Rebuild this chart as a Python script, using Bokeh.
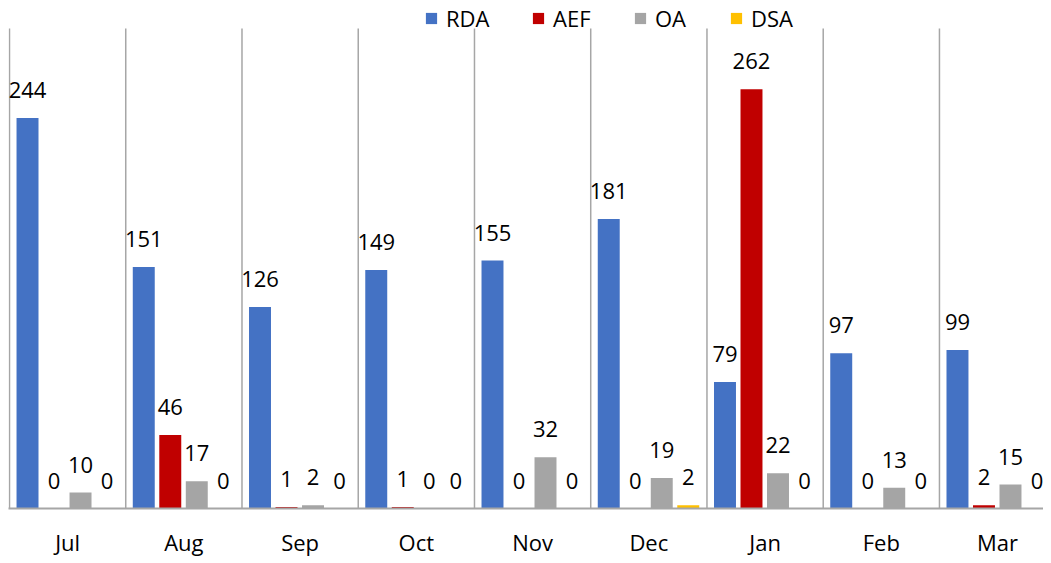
from bokeh.plotting import figure
from bokeh.models import Range1d, FixedTicker, Legend, LegendItem, ColumnDataSource
from bokeh.core.properties import value
from bokeh.embed import file_html
from bokeh.resources import INLINE
import numpy as np

months = ["Jul", "Aug", "Sep", "Oct", "Nov", "Dec", "Jan", "Feb", "Mar"]
series_names = ["RDA", "AEF", "OA", "DSA"]
rda = [244, 151, 126, 149, 155, 181, 79, 97, 99]
aef = [0, 46, 1, 1, 0, 0, 262, 0, 2]
oa = [10, 17, 2, 0, 32, 19, 22, 13, 15]
dsa = [0, 0, 0, 0, 0, 2, 0, 0, 0]
colors = ["#4472C4", "#C00000", "#A5A5A5", "#FFC000"]

FONT = "Open Sans"
FS = "22px"

p = figure(frame_width=1035, frame_height=508, output_backend="svg",
           toolbar_location=None, x_range=Range1d(-0.0086, 8.895),
           y_range=Range1d(0, 317.5), y_axis_location=None, min_border=0,
           min_border_left=8, outline_line_color=None)
p.xgrid.visible = False
p.ygrid.visible = False

idx = np.arange(len(months))
# separators between categories
p.segment(x0=np.arange(len(months) + 1), y0=0, x1=np.arange(len(months) + 1), y1=300,
          line_color="#A6A6A6", line_width=1.5)

offsets = [0.155, 0.383, 0.611, 0.839]
bar_w = 0.189
legend_x = [416, 523, 625, 721]
for name, vals, col, off, lx in zip(series_names, [rda, aef, oa, dsa], colors, offsets, legend_x):
    src = ColumnDataSource(dict(x=idx + off, top=vals, lab=[str(v) for v in vals]))
    r = p.vbar(x="x", top="top", width=bar_w, source=src, fill_color=col, line_color=None)
    p.text(x="x", y="top", text="lab", source=src, text_align="center",
           text_baseline="alphabetic", y_offset=-28,
           text_font=value(FONT), text_font_size=FS, text_color="#000000")
    leg = Legend(items=[LegendItem(label=name, renderers=[r])], orientation="horizontal",
                 location=(lx, 475), glyph_width=14, glyph_height=14, label_standoff=8,
                 padding=0, margin=0, background_fill_alpha=0, border_line_color=None,
                 label_text_font=FONT, label_text_font_size=FS, label_text_color="#000000")
    p.add_layout(leg)

p.xaxis.ticker = FixedTicker(ticks=[i + 0.5 for i in range(len(months))])
p.xaxis.major_label_overrides = {i + 0.5: m for i, m in enumerate(months)}
p.xaxis.major_tick_line_color = None
p.xaxis.minor_tick_line_color = None
p.xaxis.major_tick_out = 0
p.xaxis.major_tick_in = 0
p.xaxis.major_label_standoff = 18
p.xaxis.axis_line_color = "#A6A6A6"
p.xaxis.axis_line_width = 2
p.xaxis.major_label_text_font = FONT
p.xaxis.major_label_text_font_size = FS
p.xaxis.major_label_text_color = "#000000"

open("out.html", "w").write(file_html(p, INLINE))
